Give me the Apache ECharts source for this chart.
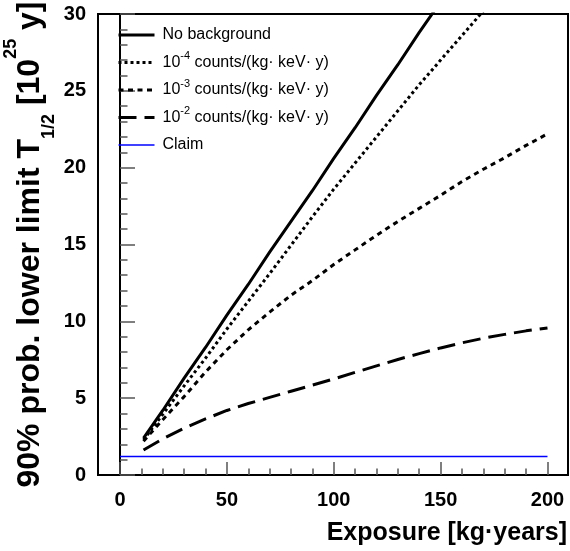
<!DOCTYPE html>
<html style="height: 100%">
<head>
<meta charset="utf-8">
<script src="https://cdn.jsdelivr.net/npm/echarts@6/dist/echarts.min.js"></script>
</head>
<body style="height: 100%; margin: 0; background: #fff">
<div id="container" style="width: 570px; height: 551px"></div>
<script type="text/javascript">
// exposure in kg·years
var exposure = [11, 20, 30, 40, 50, 60, 70, 80, 90, 100, 110, 120, 130, 140, 150, 160, 170, 180, 190, 200];
// 90% prob. lower limit, 10^25 y
var noBackground = [2.4, 4.2, 6.3, 8.3, 10.4, 12.4, 14.5, 16.5, 18.5, 20.6, 22.6, 24.7, 26.7, 28.8, 30.8, null, null, null, null, null];
var bkg1e4 = [2.28, 3.95, 5.8, 7.6, 9.5, 11.3, 13.1, 14.95, 16.8, 18.6, 20.3, 22.0, 23.7, 25.4, 27.0, 28.6, 30.2, 31.7, null, null];
var bkg1e3 = [2.2, 3.6, 5.1, 6.7, 8.15, 9.45, 10.6, 11.7, 12.65, 13.7, 14.65, 15.6, 16.5, 17.35, 18.2, 19.1, 19.9, 20.65, 21.45, 22.2];
var bkg1e2 = [1.63, 2.35, 3.05, 3.65, 4.2, 4.65, 5.05, 5.45, 5.85, 6.25, 6.68, 7.1, 7.52, 7.9, 8.27, 8.6, 8.9, 9.15, 9.38, 9.57];
var claimX = [0, 200];
var claimY = [1.2, 1.2];

var seriesNames = ['No background', '10^-4 counts/(kg· keV· y)', '10^-3 counts/(kg· keV· y)', '10^-2 counts/(kg· keV· y)', 'Claim'];
var xLabels = [0, 50, 100, 150, 200];
var xMinor = [10, 20, 30, 40, 60, 70, 80, 90, 110, 120, 130, 140, 160, 170, 180, 190];

var FONT = 'Liberation Sans';

function pairs(xs, ys) {
    return xs.map(function (x, i) { return [x, ys[i]]; });
}

function curve(name, ys, dash) {
    return {
        name: name,
        type: 'line',
        xAxisIndex: 0,
        symbol: 'none',
        showSymbol: false,
        connectNulls: false,
        lineStyle: { color: '#000', width: 3, type: dash },
        itemStyle: { color: '#000' },
        data: pairs(exposure, ys)
    };
}

// legend icons: thick black curves, thin blue claim line
var legendData = seriesNames.map(function (n) {
    return { name: n, lineStyle: { width: n === 'Claim' ? 1.5 : 3 } };
});

var dom = document.getElementById('container');
var myChart = echarts.init(dom);
var option = {
    animation: false,
    backgroundColor: '#fff',
    grid: {
        left: 98, top: 14, right: 2, bottom: 76,
        show: true, borderColor: '#000', borderWidth: 2,
        containLabel: false, outerBoundsMode: 'none'
    },
    legend: {
        orient: 'vertical',
        left: 112, top: 18,
        itemWidth: 36, itemHeight: 14, itemGap: 3.5,
        data: legendData,
        itemStyle: { opacity: 0 },
        formatter: function (name) {
            return name.replace(/\^(-?\d+)/, '{sup|$1}');
        },
        textStyle: {
            fontFamily: FONT, fontSize: 16, color: '#000', lineHeight: 24,
            padding: [0, 0, 0, 3],
            rich: {
                sup: { fontFamily: FONT, fontSize: 11, color: '#000', verticalAlign: 'top', lineHeight: 14 }
            }
        }
    },
    xAxis: [{
        type: 'value',
        position: 'bottom',
        min: -10.3, max: 209.6,
        splitLine: { show: false },
        axisLine: { lineStyle: { color: '#000', width: 2 } },
        axisTick: { inside: true, length: 13, customValues: xLabels, lineStyle: { color: '#555', width: 1.5 } },
        axisLabel: { customValues: xLabels, margin: 15, color: '#000', fontFamily: FONT, fontWeight: 'bold', fontSize: 20 },
        name: 'Exposure [kg·years]',
        nameLocation: 'end',
        nameGap: -1,
        nameMoveOverlap: false,
        nameTextStyle: { fontFamily: FONT, fontWeight: 'bold', fontSize: 25, color: '#000', align: 'right', verticalAlign: 'top', padding: [46, 0, 0, 0] }
    }, {
        type: 'value',
        position: 'bottom',
        min: -10.3, max: 209.6,
        splitLine: { show: false },
        axisLine: { show: false },
        axisTick: { inside: true, length: 6.5, customValues: xMinor, lineStyle: { color: '#555', width: 1.5 } },
        axisLabel: { show: false }
    }],
    yAxis: {
        type: 'value',
        min: 0, max: 30, interval: 5,
        splitLine: { show: false },
        axisLine: { lineStyle: { color: '#000', width: 2 } },
        axisTick: { inside: true, length: 15, lineStyle: { color: '#555', width: 1.5 } },
        minorTick: { show: true, splitNumber: 5, length: 7.5, lineStyle: { color: '#555', width: 1.5 } },
        axisLabel: { margin: 12, color: '#000', fontFamily: FONT, fontWeight: 'bold', fontSize: 20 },
        name: '90% prob. lower limit T{sub|1/2} [10{sup|25} y]',
        nameLocation: 'middle',
        nameRotate: 90,
        nameGap: 40,
        nameMoveOverlap: false,
        nameTextStyle: {
            fontFamily: FONT, fontWeight: 'bold', fontSize: 32, color: '#000', lineHeight: 56,
            rich: {
                sub: { fontFamily: FONT, fontWeight: 'bold', fontSize: 18, color: '#000', verticalAlign: 'bottom', lineHeight: 21 },
                sup: { fontFamily: FONT, fontWeight: 'bold', fontSize: 18, color: '#000', verticalAlign: 'top', lineHeight: 21 }
            }
        }
    },
    series: [
        curve(seriesNames[0], noBackground, 'solid'),
        curve(seriesNames[1], bkg1e4, [3, 3]),
        curve(seriesNames[2], bkg1e3, [5, 4.5]),
        curve(seriesNames[3], bkg1e2, [18, 8]),
        {
            name: seriesNames[4],
            type: 'line',
            xAxisIndex: 0,
            symbol: 'none',
            showSymbol: false,
            lineStyle: { color: '#0000ff', width: 1.5 },
            itemStyle: { color: '#0000ff' },
            data: pairs(claimX, claimY)
        }
    ]
};
if (option && typeof option === 'object') {
    myChart.setOption(option, true);
}
</script>
</body>
</html>
